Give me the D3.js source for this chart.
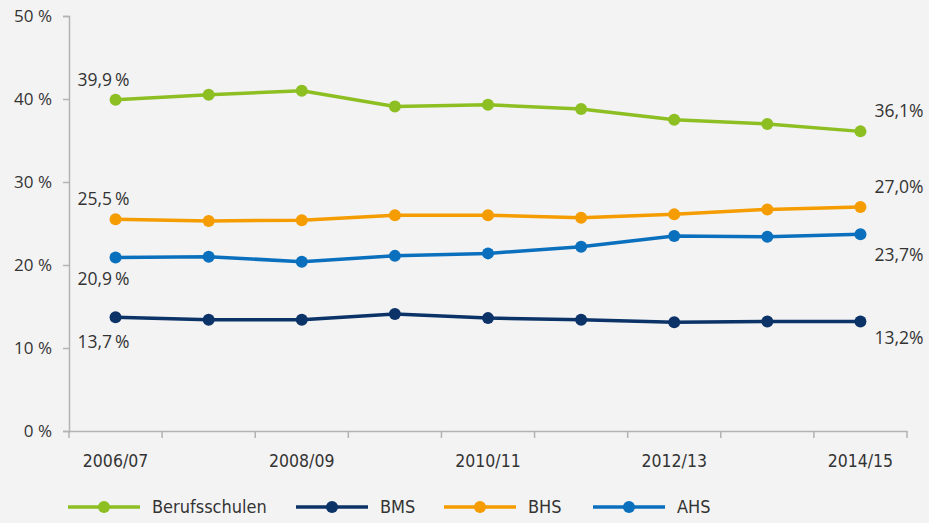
<!DOCTYPE html>
<html>
<head>
<meta charset="utf-8">
<script src="https://cdn.jsdelivr.net/npm/d3@7"></script>
<style>
  body { margin: 0; background: #f3f3f3; }
  svg { display: block; }
  text { font-family: "Open Sans", "DejaVu Sans", sans-serif; fill: #333; }
</style>
</head>
<body>
<div id="myChart"></div>
<script>
const years = ["2006/07", "2007/08", "2008/09", "2009/10", "2010/11", "2011/12", "2012/13", "2013/14", "2014/15"]
const tickYears = ["2006/07", "2008/09", "2010/11", "2012/13", "2014/15"]
const berufsschulen = [39.9, 40.5, 41.0, 39.1, 39.3, 38.8, 37.5, 37.0, 36.1]
const bms = [13.7, 13.4, 13.4, 14.1, 13.6, 13.4, 13.1, 13.2, 13.2]
const bhs = [25.5, 25.3, 25.4, 26.0, 26.0, 25.7, 26.1, 26.7, 27.0]
const ahs = [20.9, 21.0, 20.4, 21.1, 21.4, 22.2, 23.5, 23.4, 23.7]
const yTicks = [0, 10, 20, 30, 40, 50]

let width = 929
let height = 523

let series = [
  { name: "Berufsschulen", values: berufsschulen, color: "#8dbf23", firstDy: -14, lastDy: -14 },
  { name: "BMS", values: bms, color: "#0b3368", firstDy: 31, lastDy: 23 },
  { name: "BHS", values: bhs, color: "#f59c00", firstDy: -14, lastDy: -14 },
  { name: "AHS", values: ahs, color: "#0a70be", firstDy: 27, lastDy: 27 }
]

let svg = d3.select("#myChart").append("svg")
  .attr("width", width)
  .attr("height", height)

let x = d3.scaleBand().domain(years).range([69, 907])
let y = d3.scaleLinear().domain([0, 50]).range([431, 16])

const fmt = v => d3.format(".1f")(v).replace(".", ",")

// y axis
let yAxis = svg.append("g")
  .attr("transform", "translate(69,0)")
  .call(d3.axisLeft(y).tickValues(yTicks).tickSize(6).tickFormat(d => d + " %"))
yAxis.select(".domain").attr("stroke", "#b3b3b3").attr("stroke-width", 1.5)
yAxis.selectAll(".tick line").attr("stroke", "#b3b3b3").attr("stroke-width", 1.5)
yAxis.selectAll(".tick text")
  .attr("x", -17)
  .style("font-size", "17px")
  .style("font-family", "'Open Sans', sans-serif")
  .style("fill", "#333")

// x axis
let xAxis = svg.append("g")
  .attr("transform", "translate(0,431)")
  .call(d3.axisBottom(x).tickSize(0).tickFormat(""))
xAxis.select(".domain").attr("stroke", "#b3b3b3").attr("stroke-width", 1.5)
xAxis.selectAll(".tick").remove()

let bounds = years.map(d => x(d)).concat([x.range()[1]])
xAxis.selectAll("line.sep")
  .data(bounds)
  .enter().append("line")
  .attr("class", "sep")
  .attr("x1", d => d).attr("x2", d => d)
  .attr("y1", 0).attr("y2", 7)
  .attr("stroke", "#b3b3b3")
  .attr("stroke-width", 1.5)

svg.append("g").selectAll("text")
  .data(tickYears)
  .enter().append("text")
  .attr("x", d => x(d) + x.bandwidth() / 2)
  .attr("y", 467)
  .attr("text-anchor", "middle")
  .style("font-family", "'DejaVu Sans Condensed', 'Liberation Sans Narrow', sans-serif")
  .style("font-size", "17.5px")
  .text(d => d)

let line = d3.line()
  .x((d, i) => x(years[i]) + x.bandwidth() / 2)
  .y(d => y(d))

series.forEach(s => {
  let g = svg.append("g")
  g.append("path")
    .attr("d", line(s.values))
    .attr("fill", "none")
    .attr("stroke", s.color)
    .attr("stroke-width", 3.5)
    .attr("stroke-linejoin", "round")
  g.selectAll("circle")
    .data(s.values)
    .enter().append("circle")
    .attr("cx", (d, i) => x(years[i]) + x.bandwidth() / 2)
    .attr("cy", d => y(d))
    .attr("r", 6)
    .attr("fill", s.color)

  let n = s.values.length
  g.append("text")
    .attr("x", x(years[0]) + x.bandwidth() / 2 - 38)
    .attr("y", y(s.values[0]) + s.firstDy)
    .style("font-size", "17.5px")
    .text(fmt(s.values[0]) + "\u2009%")
  g.append("text")
    .attr("x", x(years[n - 1]) + x.bandwidth() / 2 + 14)
    .attr("y", y(s.values[n - 1]) + s.lastDy)
    .style("font-size", "17.5px")
    .text(fmt(s.values[n - 1]) + "%")
})

// legend
let legendX = [68, 296, 444, 593]
let legend = svg.append("g").selectAll("g")
  .data(series)
  .enter().append("g")
  .attr("transform", (d, i) => `translate(${legendX[i]},507)`)
legend.append("line")
  .attr("x1", 0).attr("x2", 72)
  .attr("stroke", d => d.color)
  .attr("stroke-width", 3.5)
legend.append("circle")
  .attr("cx", 36).attr("r", 6)
  .attr("fill", d => d.color)
legend.append("text")
  .attr("x", 84)
  .attr("y", 6)
  .style("font-family", "'DejaVu Sans Condensed', 'Liberation Sans Narrow', sans-serif")
  .style("font-size", "18px")
  .text(d => d.name)
</script>
</body>
</html>
